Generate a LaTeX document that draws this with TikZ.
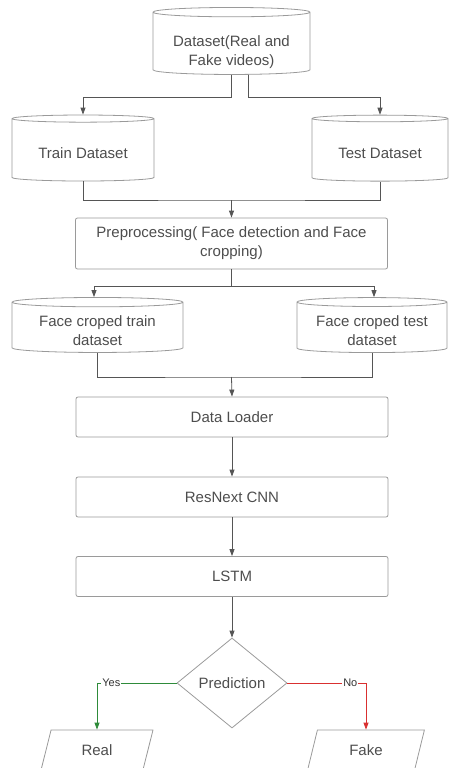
\documentclass[tikz,border=0pt]{standalone}
\usepackage{fontspec}
\setmainfont{Liberation Sans}
\usetikzlibrary{arrows.meta,shapes.geometric,positioning,calc}
\definecolor{edge}{HTML}{9A9A9A}
\definecolor{ink}{HTML}{4D4D4D}
\definecolor{wire}{HTML}{555555}
\definecolor{yesgreen}{HTML}{2E8B3A}
\definecolor{nored}{HTML}{D93030}
% text set a little lower than the middle of its shape
\newcommand{\lowtext}[2]{\raisebox{-#1}[\height][\depth]{\begin{tabular}{@{}c@{}}#2\end{tabular}}}

\begin{document}
\begin{tikzpicture}[x=1pt,y=-1pt,line width=0.8pt,
  every node/.style={text=ink,font=\fontsize{15}{19}\selectfont},
  store/.style={draw=edge,cylinder,shape border rotate=90,aspect=0.08,inner sep=0pt,align=center},
  stage/.style={draw=edge,rectangle,rounded corners=2pt,minimum width=312pt,align=center},
  choice/.style={draw=edge,diamond,minimum width=110pt,minimum height=90pt,inner sep=0pt},
  outcome/.style={draw=edge,trapezium,trapezium left angle=73,trapezium right angle=107,
    trapezium stretches=true,minimum height=40pt,inner sep=0pt},
  arr/.style={draw=wire,-{Triangle[length=7pt,width=5pt]}},
  link/.style={draw=wire},
  tag/.style={fill=white,inner sep=1pt,text=black!80,font=\fontsize{11}{13}\selectfont}]
% Page frame
  \useasboundingbox (0,0) rectangle (448,768);
% Source dataset
  \node[store,minimum width=157pt,minimum height=67pt] (dataset) at (231.5,43.5)
    {\lowtext{9pt}{Dataset(Real and\\Fake videos)}};
% Train and test datasets
  \node[store,minimum width=142pt,minimum height=66pt] (train) at (83,150) {\lowtext{5pt}{Train Dataset}};
  \node[store,minimum width=136pt,minimum height=66pt] (test) at (380,150) {\lowtext{5pt}{Test Dataset}};
% Preprocessing
  \node[stage,minimum height=51pt] (prep) at (231.5,243.5)
    {Preprocessing( Face detection and Face\\cropping)};
% Face cropped datasets
  \node[store,minimum width=171pt,minimum height=55pt] (facetrain) at (97.5,327.5)
    {\lowtext{5pt}{Face croped train\\dataset}};
  \node[store,minimum width=150pt,minimum height=55pt] (facetest) at (372,327.5)
    {\lowtext{5pt}{Face croped test\\dataset}};
% Model stages
  \node[stage,minimum height=40pt] (loader) at (232,417) {Data Loader};
  \node[stage,minimum height=40pt] (resnext) at (232,497) {ResNext CNN};
  \node[stage,minimum height=40pt] (lstm) at (232,576.5) {LSTM};
% Decision
  \node[choice] (pred) at (232,683) {Prediction};
% Outcomes
  \node[outcome,minimum width=112pt] (real) at (97,750) {Real};
  \node[outcome,minimum width=117pt] (fake) at (366,750) {Fake};

% Split of the source dataset
  \coordinate (split1) at (231.5,97);
  \draw[arr] (dataset.south) -- (split1) -| (train.north);
  \draw[arr] ([xshift=17pt]dataset.south) |- ([xshift=17pt]split1) -| (test.north);
% Join into preprocessing
  \coordinate (join1) at (231.5,200);
  \draw[link] (train.south) |- (join1) -| (test.south);
  \draw[arr] (join1) -- (prep.north);
% Split after preprocessing
  \coordinate (split2) at (231.5,286);
  \draw[link] (prep.south) -- (split2);
  \draw[arr] (split2) -| ([xshift=-3.5pt]facetrain.north);
  \draw[arr] (split2) -| ([xshift=2pt]facetest.north);
% Join into the data loader
  \coordinate (join2) at (231.5,377);
  \draw[link] (facetrain.south) |- (join2) -| (facetest.south);
  \draw[arr] (join2) -- (loader.north);
% Model chain
  \draw[arr] (loader) -- (resnext);
  \draw[arr] (resnext) -- (lstm);
  \draw[arr] (lstm) -- (pred);
% Yes / No branches
  \draw[arr,draw=yesgreen,-{Triangle[length=7pt,width=5pt,fill=yesgreen]}] (pred.west) -| (real.north)
    node[tag,pos=0.41] {Yes};
  \draw[arr,draw=nored,-{Triangle[length=7pt,width=5pt,fill=nored]}] (pred.east) -| (fake.north)
    node[tag,pos=0.4] {No};
\end{tikzpicture}
\end{document}
